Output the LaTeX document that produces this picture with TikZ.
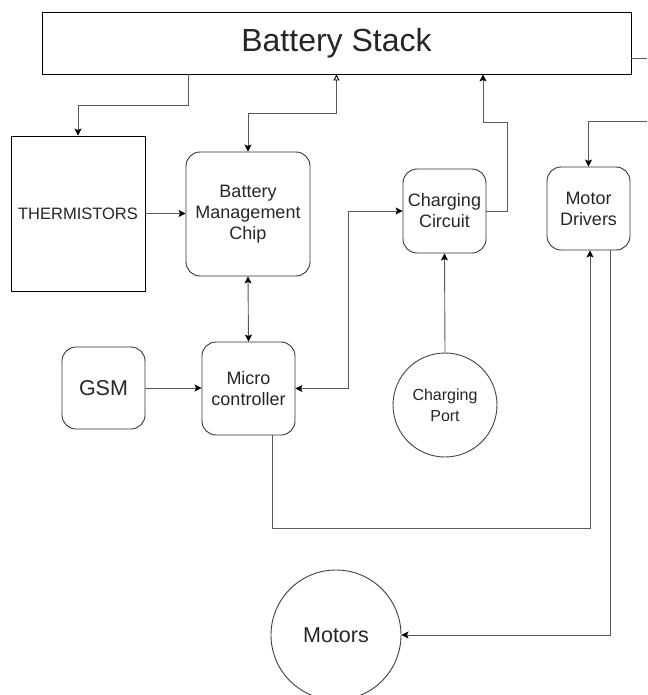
\documentclass[tikz,border=0pt]{standalone}
\usepackage{fontspec}
\setmainfont{Liberation Sans}
\usetikzlibrary{arrows.meta}

\begin{document}
\begin{tikzpicture}[x=1pt, y=-1pt,
  block/.style={draw=black, line width=0.9pt, inner sep=0pt, align=center, text=black!85},
  soft/.style={block, draw=black!80, rounded corners=14pt},
  disc/.style={block, draw=black!75, circle},
  wire/.style={draw=black!65, line width=0.9pt, -{Stealth[length=7pt, width=7pt, inset=1.5pt, black]}},
  txt/.style={font=\fontsize{#1}{21}\selectfont}]
  \useasboundingbox (0,0) rectangle (647,695);
  \clip (0,0) rectangle (647,695);
  % top row: the stack itself
  \node[block, minimum width=589, minimum height=62, txt=32] (stack) at (336.5,43) {Battery Stack};
  % sensing and control
  \node[block, minimum width=134, minimum height=155, txt=16.5] (therm) at (78,213.5) {THERMISTORS};
  \node[soft, minimum width=124, minimum height=124, txt=18] (bmc) at (248,214) {Battery\\Management\\Chip};
  \node[soft, minimum width=83, minimum height=82, txt=21.5] (gsm) at (103.5,388) {GSM};
  \node[soft, minimum width=93, minimum height=93, txt=18] (mcu) at (248.5,388.5) {Micro\\controller};
  % charging side
  \node[soft, minimum width=83, minimum height=84, txt=18] (charger) at (444.5,211) {Charging\\Circuit};
  \node[disc, minimum size=104, txt=16] (port) at (445,405) {Charging\\Port};
  % drive side
  \node[soft, minimum width=83, minimum height=83, txt=18] (drivers) at (588.5,208.5) {Motor\\Drivers};
  \node[disc, minimum size=130, txt=21.5] (motors) at (336,635) {Motors};
  \coordinate (feed) at (647,121);

  % connectors
  \draw[wire] ([xshift=-148.5pt]stack.south) -- ++(0,31) -| (therm.north);
  \draw[wire, {Triangle[open, length=6pt, width=6pt, black]}-{Stealth[length=7pt, width=7pt, inset=1.5pt, black]}]
       (stack.south) -- ++(0,39) -| (bmc.north);
  \draw[wire] (therm.east) -- (therm.east -| bmc.west);
  \draw[wire, {Stealth[length=7pt, width=7pt, inset=1.5pt, black]}-{Stealth[length=7pt, width=7pt, inset=1.5pt, black]}]
       (bmc.south) -- (mcu.north);
  \draw[wire] (gsm.east) -- (gsm.east -| mcu.west);
  \draw[wire, {Stealth[length=7pt, width=7pt, inset=1.5pt, black]}-{Stealth[length=7pt, width=7pt, inset=1.5pt, black]}]
       (mcu.east) -- ++(53,0) |- (charger.west);
  \draw[wire] (charger.east) -- ++(21,0) -- ++(0,-89) -| ([xshift=146.5pt]stack.south);
  \draw[wire] (port.north) -- (charger.south);
  \draw[wire, -] ([yshift=-15pt]stack.east) -- ++(16,0);
  \draw[wire] (feed) -| (drivers.north);
  \draw[wire] ([xshift=23.5pt]mcu.south) -- ++(0,93) -| ([xshift=1.5pt]drivers.south);
  \draw[wire] ([xshift=21.5pt]drivers.south) |- (motors.east);
\end{tikzpicture}
\end{document}
